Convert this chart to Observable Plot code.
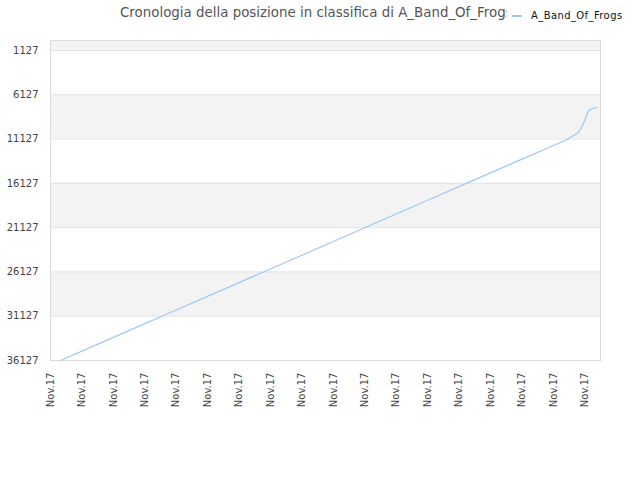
<!DOCTYPE html>
<html>
<head>
<meta charset="utf-8">
<script src="https://cdn.jsdelivr.net/npm/d3@7"></script>
<script src="https://cdn.jsdelivr.net/npm/@observablehq/plot@0.6"></script>
<style>
  body { margin: 0; background: #fff; font-family: "DejaVu Sans", sans-serif; }
  #wrap { position: relative; width: 640px; height: 480px; }
  #title { position: absolute; left: 120px; top: 4.5px; width: 387px; overflow: hidden; white-space: nowrap; font-size: 13.4px; color: #555; }
  #legend { position: absolute; left: 512px; top: 10px; font-size: 10px; letter-spacing: 0.4px; color: #111; white-space: nowrap; }
  #legend .sw { display: inline-block; width: 10px; height: 0; border-top: 2px solid #9ac8f5; vertical-align: middle; margin-right: 9px; }
  #chart { position: absolute; left: 0; top: 0; }
</style>
</head>
<body>
<div id="wrap">
  <div id="chart"></div>
  <div id="title">Cronologia della posizione in classifica di A_Band_Of_Frogs</div>
  <div id="legend"><span class="sw"></span>A_Band_Of_Frogs</div>
</div>
<script>
const seriesName = "A_Band_Of_Frogs";
const days = [0.32, 2, 4, 6, 8, 10, 12, 14, 16, 16.39, 16.8, 16.9, 17.06, 17.12, 17.25, 17.41];
const ranks = [36127, 33519, 30426, 27333, 24240, 21146, 18041, 14948, 11854, 11256, 10387, 9822, 8467, 7903, 7677, 7564];
const xTicks = [0,1,2,3,4,5,6,7,8,9,10,11,12,13,14,15,16,17];
const xLabels = ["Nov.17","Nov.17","Nov.17","Nov.17","Nov.17","Nov.17","Nov.17","Nov.17","Nov.17","Nov.17","Nov.17","Nov.17","Nov.17","Nov.17","Nov.17","Nov.17","Nov.17","Nov.17"];
const yTicks = [1127, 6127, 11127, 16127, 21127, 26127, 31127, 36127];
const bandStarts = [0, 6127, 16127, 26127];
const bandEnds = [1127, 11127, 21127, 31127];

const points = days.map((d, i) => ({day: d, rank: ranks[i]}));
const bands = bandStarts.map((s, i) => ({a: s, b: bandEnds[i]}));

const chart = Plot.plot({
  width: 640,
  height: 480,
  marginLeft: 50,
  marginRight: 40,
  marginTop: 40,
  marginBottom: 120,
  style: { fontFamily: "DejaVu Sans, sans-serif", fontSize: "10px", background: "transparent" },
  x: { domain: [0, 17.5] },
  y: { domain: [36127, 0] },
  marks: [
    Plot.rect(bands, { y1: "a", y2: "b", fill: "#f3f3f3" }),
    Plot.ruleY(yTicks, { stroke: "#e3e3e3" }),
    Plot.frame({ stroke: "#dcdcdc" }),
    Plot.line(points, { x: "day", y: "rank", stroke: "#9ac8f5", strokeWidth: 1.2 }),
    Plot.axisY({ ticks: yTicks, tickFormat: d => String(d), tickSize: 0, tickPadding: 12, fill: "#444", label: null }),
    Plot.axisX({ ticks: xTicks, tickFormat: i => xLabels[i], tickRotate: -90, tickSize: 0, tickPadding: 12, fill: "#444", label: null })
  ]
});
document.getElementById("chart").appendChild(chart);
</script>
</body>
</html>
